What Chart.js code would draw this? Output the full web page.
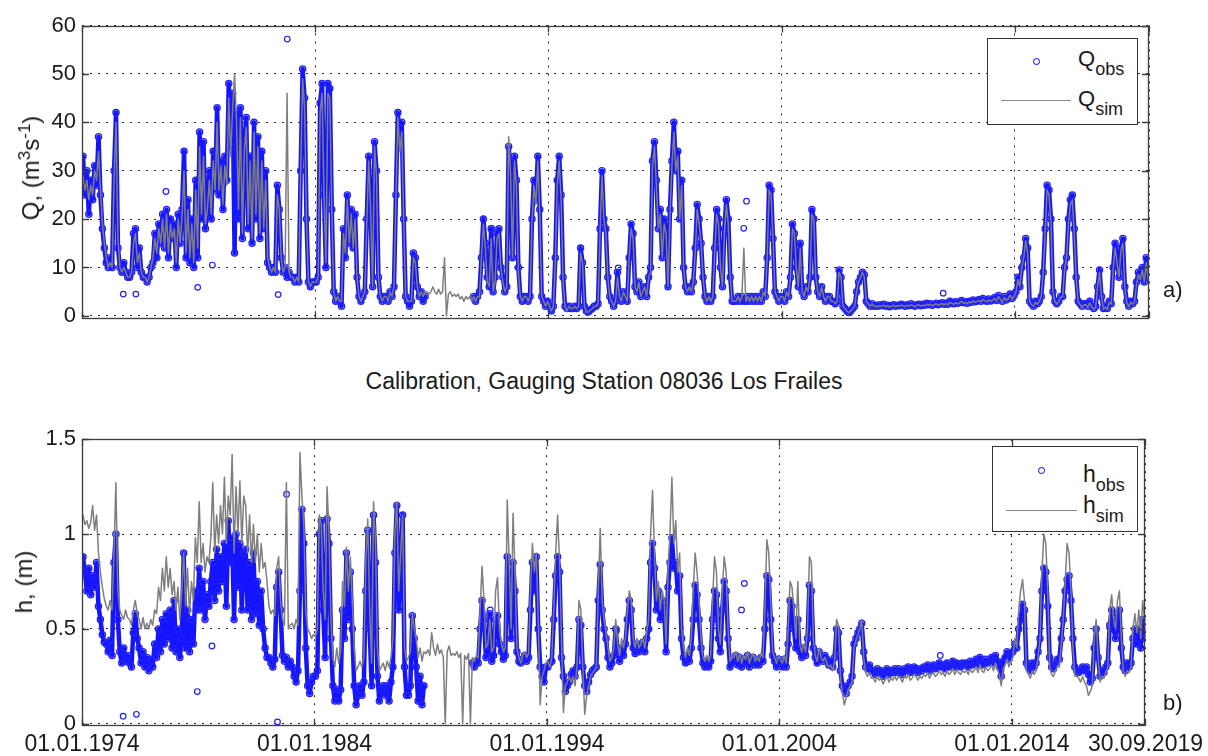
<!DOCTYPE html>
<html>
<head>
<meta charset="utf-8">
<script src="https://cdn.jsdelivr.net/npm/chart.js@4.4.0/dist/chart.umd.min.js"></script>
<style>
html,body{margin:0;padding:0;background:#fff;}
body{width:1208px;height:756px;position:relative;overflow:hidden;font-family:"Liberation Sans",Arial,sans-serif;color:#1a1a1a;}
.cw{position:absolute;left:0;width:1208px;}
#w1{top:0;height:345px;}
#w2{top:420px;height:336px;}
.ylab{position:absolute;white-space:nowrap;transform:translate(-50%,-50%) rotate(-90deg);font-size:24px;line-height:24px;}
.ylab sup{font-size:17px;vertical-align:9px;line-height:0;}
.title{position:absolute;left:0;width:1208px;text-align:center;top:369px;font-size:23px;line-height:24px;}
.pl{position:absolute;font-size:22px;line-height:22px;}
.leg{position:absolute;border:1px solid #333;background:#fff;box-sizing:border-box;}
.leg .mk{position:absolute;width:5px;height:5px;border:1.3px solid #0000ff;border-radius:50%;}
.leg .ln{position:absolute;height:0;border-top:1.3px solid #8a8a8a;}
.leg .tx{position:absolute;white-space:nowrap;line-height:22px;}
.leg .tx sub{vertical-align:-9px;line-height:0;}
</style>
</head>
<body>
<div class="cw" id="w1"><canvas id="c1" width="1208" height="345"></canvas></div>
<div class="cw" id="w2"><canvas id="c2" width="1208" height="336"></canvas></div>

<div class="ylab" style="left:31px;top:168px;">Q, (m<sup>3</sup>s<sup>-1</sup>)</div>
<div class="ylab" style="left:24px;top:582px;">h, (m)</div>
<div class="title">Calibration, Gauging Station 08036 Los Frailes</div>
<div class="pl" style="left:1163px;top:279px;">a)</div>
<div class="pl" style="left:1163px;top:692px;">b)</div>

<div class="leg" style="left:987px;top:38px;width:151px;height:87px;">
  <span class="mk" style="left:45px;top:19px;"></span>
  <span class="ln" style="left:13px;top:61px;width:70px;"></span>
  <span class="tx" style="left:90px;top:9px;font-size:22px;">Q<sub style="font-size:18px;">obs</sub></span>
  <span class="tx" style="left:90px;top:49px;font-size:22px;">Q<sub style="font-size:18px;">sim</sub></span>
</div>
<div class="leg" style="left:992px;top:446px;width:146px;height:86px;">
  <span class="mk" style="left:45px;top:20px;"></span>
  <span class="ln" style="left:13px;top:63px;width:71px;"></span>
  <span class="tx" style="left:90px;top:16px;font-size:23px;">h<sub style="font-size:18px;">obs</sub></span>
  <span class="tx" style="left:90px;top:47px;font-size:23px;">h<sub style="font-size:18px;">sim</sub></span>
</div>

<script>
// ---------------- DATA (monthly values, Jan 1974 .. Sep 2019) ----------------
const startYear = 1974;
const xTickVals = [1974, 1984, 1994, 2004, 2014, 2019.745];
const xTickLabels = ['01.01.1974', '01.01.1984', '01.01.1994', '01.01.2004', '01.01.2014', '30.09.2019'];
const qTicks = [0, 10, 20, 30, 40, 50, 60];
const hTicks = [0, 0.5, 1, 1.5];
const hTickLabels = ['0', '0.5', '1', '1.5'];

const qObs = [
33,25,30,21,28,24,31,27,37,25,18,14,
11,10,12,10,30,42,14,10,9,11,9,8,
8,9,17,18,10,14,9,8,8,7,8,10,
11,17,12,19,15,21,14,22,12,20,16,19,
10,21,15,22,34,12,24,11,20,10,28,12,
38,20,36,18,22,30,20,34,26,43,25,32,
22,33,28,48,35,46,13,42,20,43,16,36,
41,18,33,15,40,20,37,16,34,18,30,11,
10,9,10,9,27,22,12,9,10,8,9,8,
8,7,8,7,30,51,45,20,7,6,7,7,
7,8,44,48,25,10,48,47,22,5,3,4,
3,2,18,12,25,15,22,14,21,8,4,3,
4,5,20,33,22,6,36,30,8,4,3,4,
4,3,5,4,6,25,42,35,40,20,4,3,
2,3,13,12,6,4,5,3,4,null,null,null,
null,null,null,null,null,null,null,null,null,null,null,null,
null,null,null,null,null,null,null,null,null,4,3,4,
5,12,20,15,8,6,18,5,8,17,18,10,
8,5,6,35,30,12,33,28,10,4,3,4,
4,3,4,20,28,24,33,22,4,3,2,3,
2,1,2,12,28,33,25,8,2,1.5,2,1.5,
1.5,2,1.5,2,14,11,2,1,0.8,1.2,1.5,2,
2,2.5,18,30,20,18,8,4,3,2,3,9,
4,3,5,4,3,12,19,17,6,5,7,4,
5,6,4,8,10,32,36,28,18,22,12,20,
18,6,22,32,40,30,34,20,28,10,6,5,
6,5,7,14,23,20,15,8,4,3,4,3,
4,14,22,20,10,6,18,24,20,8,3,3,
3,4,3,4,3,3,4,3,4,3,4,3,
4,3,5,4,12,27,26,16,5,4,3,4,
4,3,5,4,8,19,17,10,6,15,5,4,
6,5,8,22,20,8,5,4,6,4,3,4,
4,3,3,2.5,3,9.5,8,2,1.5,1,0.7,1,
1.5,2,5,7,8,9,8.5,3,2.5,2,2.5,2,
2.2,2.0,2.3,2.1,2.4,2.0,2.2,1.9,2.1,2.3,2.0,2.2,
2.1,2.4,2.2,2.0,2.3,2.1,2.5,2.2,2.0,2.3,2.4,2.1,
2.4,2.2,2.6,2.3,2.5,2.2,2.4,2.6,2.3,2.5,2.7,2.4,
2.6,2.4,3.0,2.7,2.5,2.9,2.6,2.8,3.2,2.7,2.9,2.6,
3.0,2.8,3.3,2.9,3.1,3.4,3.0,3.6,3.2,3.0,3.5,3.1,
3.4,3.8,3.2,4.2,3.5,3.0,4.0,3.3,3.7,4.5,3.6,4.2,
5,8,6,10,12,16,14,3,2.5,2,3,2.5,
3,4,9,18,27,26,20,5,3,2.5,3,4,
4,10,12,20,24,25,18,8,3,2.5,2,2.5,
2.5,2,3,2,1.5,2,6,9.5,4,1.5,2,1.5,
3,2.5,10,15,12,8,14,16,6,3,2,3,
2.5,3,7,9,8,10,7,12,8
];

const qSim = [
29,26,28,24,27,25,30,28,34,26,19,15,
12,10,11,10,28,40,16,10,9,10,9,8,
8,9,15,17,11,13,9,8,8,7,8,10,
12,16,13,18,15,20,14,21,13,19,16,18,
11,20,15,21,30,13,22,12,19,11,26,14,
35,21,33,19,22,28,21,32,26,40,26,31,
23,31,27,45,33,43,50,40,22,41,17,34,
39,19,32,16,38,21,35,17,32,18,28,12,
10,9,10,9,25,22,12,9,10,46,9,8,
8,7,8,7,30,49,43,20,7,6,7,7,
7,8,42,46,25,11,46,45,22,5,3,4,
3,3,17,13,24,15,21,14,20,8,4,3,
4,5,19,32,22,6,35,29,8,4,3,4,
4,3,5,4,6,24,41,34,38,20,4,3,
3,3,12,11,6,4,5,4,5,5,4.5,5,
6,5,4.5,5.5,4.5,5,12,0,4.5,5,4,4.5,
4,4.5,3.5,4,3,4,3.5,4,3,4,3,4,
4,12,19,14,7,6,16,5,7,16,17,10,
7,5,6,37,29,12,32,27,9,4,3,4,
4,3,4,19,27,23,32,21,4,3,2,3,
2,1,2,11,27,32,24,7,2,1,2,1.5,
1.5,2,1.5,2,13,11,2,0.8,0.8,1.2,1.5,2,
2,2.5,17,29,20,17,8,4,3,2,3,8,
4,3,5,4,3,12,18,16,6,5,7,4,
5,6,4,8,9,31,35,27,18,21,12,19,
17,6,21,31,38,30,33,20,27,10,6,5,
6,5,7,13,22,19,15,8,4,3,4,3,
4,13,21,19,10,6,17,23,19,8,3,3,
3,4,3,4,14,3,4,3,4,3,4,3,
4,3,5,4,12,26,25,16,5,4,3,4,
4,3,5,4,8,18,17,10,6,14,5,4,
6,5,8,21,20,8,5,4,6,4,3,4,
4,3,3,2.5,3,9,8,2,1.5,1,0.7,1,
1.5,2,5,7,8,9,8,3,2.5,2,2.5,2,
2.0,1.9,2.1,2.0,2.2,1.9,2.1,1.8,2.0,2.2,1.9,2.1,
2.0,2.2,2.1,1.9,2.2,2.0,2.3,2.1,1.9,2.2,2.3,2.0,
2.2,2.1,2.4,2.2,2.4,2.1,2.3,2.5,2.2,2.4,2.5,2.3,
2.5,2.3,2.8,2.6,2.4,2.7,2.5,2.7,3.0,2.6,2.8,2.5,
2.9,2.7,3.1,2.8,3.0,3.2,2.9,3.4,3.1,2.9,3.3,3.0,
3.2,3.6,3.1,4.0,3.4,2.8,3.8,3.2,3.5,4.3,3.5,4.0,
5,7.5,6,10,12,15.5,13,3,2.3,2,2.8,2.4,
3,4,9,17,26,25,19,5,3,2.4,3,3.8,
4,9.5,12,19,23,24,17,7.5,3,2.3,1.8,2.3,
2.3,1.8,2.7,1.8,1.4,1.8,6,9,4,1.4,1.8,1.4,
2.8,2.4,9.5,14,11,8,13.5,15,6,2.8,1.9,2.8,
2.4,2.8,6.5,8.5,7.5,9.5,7,11,7.5
];

const hObs = [
0.88,0.8,0.7,0.82,0.68,0.78,0.72,0.85,0.62,0.55,0.47,0.43,
0.42,0.38,0.44,0.36,0.85,1.0,0.55,0.38,0.32,0.4,0.33,0.36,
0.32,0.3,0.48,0.58,0.45,0.4,0.32,0.38,0.3,0.35,0.28,0.34,
0.3,0.42,0.35,0.5,0.38,0.55,0.42,0.58,0.45,0.6,0.4,0.65,
0.38,0.5,0.35,0.45,0.9,0.4,0.6,0.38,0.55,0.42,0.7,0.6,
0.82,0.6,0.75,0.55,0.68,0.62,0.75,0.85,0.65,0.92,0.7,0.88,
0.75,0.95,0.62,1.07,0.85,0.98,0.55,1.0,0.72,0.95,0.6,0.9,
0.92,0.6,0.85,0.55,0.9,0.58,0.75,0.52,0.7,0.5,0.4,0.35,
0.35,0.32,0.3,0.34,0.72,0.8,0.6,0.36,0.33,0.35,0.3,0.33,
0.3,0.25,0.22,0.28,0.7,1.13,0.95,0.4,0.2,0.16,0.22,0.25,
0.25,0.28,1.0,1.07,0.6,0.35,1.08,0.95,0.45,0.2,0.12,0.18,
0.12,0.18,0.6,0.45,0.9,0.55,0.8,0.5,0.2,0.1,0.15,0.2,
0.15,0.22,0.7,1.02,0.5,0.2,1.1,0.85,0.25,0.12,0.18,0.2,
0.15,0.2,0.12,0.22,0.3,0.9,1.15,0.6,0.8,1.1,0.3,0.15,
0.15,0.2,0.57,0.45,0.3,0.12,0.25,0.1,0.2,null,null,null,
null,null,null,null,null,null,null,null,null,null,null,null,
null,null,null,null,null,null,null,null,null,0.32,0.3,0.33,
0.32,0.5,0.65,0.55,0.35,0.38,0.58,0.33,0.36,0.55,0.57,0.42,
0.38,0.34,0.36,0.88,0.75,0.45,0.85,0.7,0.38,0.33,0.32,0.34,
0.36,0.33,0.35,0.6,0.85,0.7,0.88,0.5,0.3,0.25,0.22,0.3,
0.3,0.32,0.33,0.55,0.78,0.88,0.8,0.35,0.25,0.17,0.2,0.22,
0.26,0.28,0.25,0.3,0.55,0.52,0.3,0.2,0.17,0.22,0.26,0.28,
0.29,0.3,0.65,0.84,0.6,0.5,0.45,0.35,0.3,0.32,0.36,0.5,
0.38,0.33,0.4,0.36,0.42,0.55,0.65,0.6,0.4,0.37,0.42,0.38,
0.4,0.43,0.38,0.45,0.5,0.85,0.95,0.82,0.6,0.7,0.55,0.65,
0.6,0.38,0.72,0.85,0.98,0.82,0.85,0.7,0.78,0.45,0.35,0.32,
0.36,0.33,0.4,0.55,0.73,0.68,0.55,0.4,0.32,0.3,0.33,0.3,
0.33,0.55,0.7,0.68,0.45,0.38,0.6,0.75,0.7,0.45,0.3,0.32,
0.33,0.36,0.31,0.35,0.3,0.34,0.32,0.36,0.3,0.33,0.35,0.31,
0.33,0.31,0.35,0.33,0.5,0.78,0.76,0.55,0.36,0.33,0.3,0.34,
0.32,0.3,0.34,0.3,0.42,0.65,0.62,0.5,0.4,0.55,0.38,0.35,
0.4,0.36,0.45,0.73,0.7,0.4,0.35,0.32,0.38,0.34,0.33,0.36,
0.34,0.31,0.33,0.3,0.35,0.5,0.48,0.28,0.2,0.18,0.16,0.2,
0.22,0.25,0.42,0.45,0.48,0.5,0.53,0.38,0.3,0.29,0.31,0.28,
0.28,0.26,0.29,0.27,0.28,0.25,0.27,0.29,0.26,0.28,0.27,0.29,
0.27,0.29,0.28,0.26,0.29,0.28,0.3,0.27,0.28,0.3,0.29,0.27,
0.29,0.28,0.3,0.29,0.31,0.28,0.3,0.31,0.29,0.3,0.32,0.3,
0.31,0.29,0.32,0.3,0.31,0.33,0.3,0.32,0.31,0.3,0.32,0.31,
0.32,0.3,0.33,0.31,0.32,0.34,0.31,0.35,0.32,0.31,0.34,0.32,
0.33,0.35,0.32,0.36,0.33,0.3,0.25,0.33,0.35,0.38,0.34,0.37,
0.38,0.42,0.4,0.5,0.55,0.63,0.6,0.32,0.3,0.28,0.32,0.3,
0.32,0.38,0.45,0.7,0.82,0.8,0.62,0.35,0.3,0.29,0.32,0.34,
0.34,0.45,0.55,0.7,0.76,0.78,0.65,0.45,0.3,0.28,0.27,0.28,
0.3,0.28,0.3,0.26,0.22,0.24,0.4,0.5,0.35,0.25,0.28,0.27,
0.3,0.32,0.52,0.6,0.5,0.45,0.58,0.6,0.4,0.3,0.28,0.32,
0.3,0.32,0.45,0.5,0.42,0.5,0.4,0.55,0.45
];

const hSim = [
1.1,1.05,1.07,1.03,1.06,1.15,1.02,1.1,0.9,0.8,0.72,0.66,
0.62,0.6,0.65,0.6,0.9,1.27,0.7,0.6,0.57,0.55,0.6,0.56,
0.55,0.52,0.6,0.65,0.58,0.55,0.5,0.56,0.5,0.53,0.5,0.55,
0.52,0.6,0.58,0.72,0.65,0.82,0.7,0.88,0.72,0.82,0.68,0.75,
0.6,0.72,0.55,0.7,0.9,0.62,0.82,0.58,0.75,0.65,0.98,0.85,
1.17,0.85,0.95,0.8,0.88,0.85,0.98,1.27,0.9,1.1,0.95,1.15,
1.0,1.3,0.95,1.2,1.1,1.42,0.9,1.25,1.0,1.28,0.95,1.2,
1.15,0.9,1.1,0.85,1.05,0.85,1.0,0.8,0.95,0.82,0.85,0.75,
0.62,0.58,0.6,0.57,0.82,0.88,0.65,0.55,0.52,1.27,0.5,0.52,
0.53,0.5,0.55,0.52,1.43,1.2,1.05,0.6,0.5,0.48,0.45,0.47,
0.46,0.5,1.1,1.05,0.7,0.55,1.25,1.0,0.55,0.35,0.3,0.4,
0.32,0.38,0.75,0.62,0.93,0.7,0.88,0.65,0.4,0.28,0.3,0.33,
0.3,0.35,0.85,1.08,0.6,0.32,1.17,0.95,0.4,0.28,0.3,0.32,
0.28,0.33,0.3,0.35,0.45,1.0,1.17,0.7,0.9,1.1,0.4,0.33,
0.35,0.38,0.58,0.5,0.45,0.35,0.4,0.33,0.38,0.37,0.39,0.36,
0.48,0.4,0.36,0.42,0.37,0.39,0.35,0.0,0.38,0.41,0.36,0.37,
0.36,0.38,0.35,0.37,0.0,0.36,0.34,0.37,0.0,0.35,0.33,0.36,
0.35,0.6,0.83,0.65,0.4,0.42,0.55,0.38,0.4,0.7,0.77,0.5,
0.42,0.38,0.4,1.18,0.85,0.5,1.11,0.8,0.4,0.35,0.32,0.36,
0.38,0.35,0.37,0.7,0.95,0.8,0.9,0.55,0.1,0.25,0.28,0.32,
0.33,0.3,0.35,0.6,0.9,1.1,0.85,0.45,0.06,0.2,0.22,0.25,
0.22,0.25,0.2,0.3,0.65,0.6,0.3,0.05,0.15,0.2,0.25,0.27,
0.28,0.3,0.7,1.03,0.65,0.55,0.48,0.4,0.33,0.35,0.4,0.55,
0.42,0.36,0.45,0.4,0.45,0.6,0.7,0.65,0.45,0.4,0.45,0.4,
0.42,0.45,0.4,0.48,0.55,1.0,1.23,0.9,0.65,0.75,0.6,0.7,
0.65,0.42,0.8,1.0,1.3,0.95,1.07,0.8,0.9,0.5,0.4,0.35,
0.4,0.36,0.45,0.7,0.9,0.8,0.65,0.45,0.35,0.33,0.36,0.33,
0.36,0.65,0.88,0.8,0.5,0.42,0.7,0.88,0.8,0.5,0.33,0.35,
0.35,0.38,0.33,0.37,0.32,0.36,0.34,0.38,0.32,0.35,0.37,0.33,
0.35,0.33,0.37,0.35,0.6,0.97,0.9,0.65,0.38,0.35,0.32,0.36,
0.34,0.32,0.36,0.32,0.5,0.75,0.72,0.6,0.45,0.75,0.42,0.38,
0.42,0.38,0.5,0.88,0.85,0.45,0.36,0.33,0.4,0.35,0.33,0.35,
0.32,0.3,0.31,0.28,0.33,0.55,0.52,0.25,0.16,0.1,0.14,0.18,
0.2,0.22,0.4,0.44,0.47,0.5,0.55,0.35,0.27,0.25,0.27,0.24,
0.24,0.22,0.25,0.23,0.24,0.21,0.23,0.25,0.22,0.24,0.23,0.25,
0.23,0.25,0.24,0.22,0.25,0.24,0.26,0.23,0.24,0.26,0.25,0.23,
0.25,0.24,0.26,0.25,0.27,0.24,0.26,0.27,0.25,0.26,0.28,0.26,
0.27,0.25,0.28,0.26,0.27,0.29,0.26,0.28,0.27,0.26,0.28,0.27,
0.28,0.26,0.29,0.27,0.28,0.3,0.27,0.31,0.28,0.27,0.3,0.28,
0.29,0.31,0.28,0.32,0.29,0.26,0.2,0.29,0.31,0.34,0.3,0.33,
0.35,0.45,0.4,0.6,0.7,0.76,0.65,0.28,0.26,0.24,0.28,0.26,
0.28,0.35,0.45,0.8,1.0,0.95,0.7,0.3,0.26,0.25,0.28,0.3,
0.3,0.42,0.55,0.75,0.95,0.9,0.7,0.4,0.25,0.25,0.24,0.22,
0.25,0.22,0.2,0.15,0.17,0.2,0.45,0.55,0.35,0.22,0.25,0.24,
0.27,0.3,0.6,0.68,0.55,0.5,0.65,0.7,0.45,0.28,0.25,0.28,
0.27,0.3,0.5,0.58,0.48,0.6,0.45,0.65,0.55
];

// isolated observed values (decimal year, value)
const qOutT = [1975.77, 1976.31, 1977.6, 1978.96, 1979.59, 1982.41, 1982.8, 1991.56, 1996.99, 2002.37, 2002.49, 2010.92, 2014.13];
const qOutV = [4.5, 4.5, 25.7, 5.9, 10.5, 4.4, 57.2, 18.1, 9.9, 18.1, 23.7, 4.7, 6.8];
const hOutT = [1975.77, 1976.34, 1978.96, 1979.59, 1982.41, 1982.8, 1991.56, 1996.99, 2002.37, 2002.49, 2010.92];
const hOutV = [0.04, 0.05, 0.17, 0.41, 0.01, 1.21, 0.6, 0.49, 0.6, 0.74, 0.36];

// ---------------- CHART ----------------
const FONT = '"Liberation Sans", Arial, sans-serif';
const TXT = '#1a1a1a';
const monthTime = i => startYear + (i + 0.5) / 12;
const series = vals => vals.map((v, i) => ({x: monthTime(i), y: v}));
const pairs = (ts, vs) => ts.map((t, i) => ({x: t, y: vs[i]}));

const boxPlugin = {
  id: 'box',
  afterDraw(chart) {
    const {ctx, chartArea: a, scales} = chart;
    ctx.save();
    ctx.strokeStyle = '#3c3c3c';
    ctx.lineWidth = 1.3;
    ctx.strokeRect(Math.round(a.left) + 0.5, Math.round(a.top) + 0.5,
                   Math.round(a.right - a.left) - 1, Math.round(a.bottom - a.top) - 1);
    const tl = 7;
    ctx.beginPath();
    scales.x.ticks.forEach(t => {
      const p = Math.round(scales.x.getPixelForValue(t.value)) + 0.5;
      ctx.moveTo(p, a.bottom); ctx.lineTo(p, a.bottom - tl);
      ctx.moveTo(p, a.top); ctx.lineTo(p, a.top + tl);
    });
    scales.y.ticks.forEach(t => {
      const p = Math.round(scales.y.getPixelForValue(t.value)) + 0.5;
      ctx.moveTo(a.left, p); ctx.lineTo(a.left + tl, p);
      ctx.moveTo(a.right, p); ctx.lineTo(a.right - tl, p);
    });
    ctx.stroke();
    ctx.restore();
  }
};

function makeChart(id, obs, sim, outT, outV, yMin, yMax, yTicks, yLabelFn, showX, pad, xAxisH) {
  return new Chart(document.getElementById(id), {
    type: 'line',
    data: {
      datasets: [
        {data: series(sim), borderColor: '#7e7e7e', borderWidth: 1.5, pointRadius: 0,
         fill: false, tension: 0, spanGaps: false, order: 0},
        {data: series(obs), borderColor: '#1414ff', borderWidth: 4.5, pointRadius: 3.1,
         pointBorderWidth: 1.3, pointBorderColor: '#2020ff', pointBackgroundColor: 'rgba(255,255,255,0)',
         fill: false, tension: 0, spanGaps: false, order: 1},
        {data: pairs(outT, outV), showLine: false, pointRadius: 2.8, pointBorderWidth: 1.2,
         pointBorderColor: '#2020ff', pointBackgroundColor: 'rgba(255,255,255,0)', order: 2}
      ]
    },
    options: {
      responsive: false, animation: false, devicePixelRatio: 1,
      layout: {padding: pad},
      plugins: {legend: {display: false}, tooltip: {enabled: false}, title: {display: false}},
      elements: {line: {borderJoinStyle: 'round', borderCapStyle: 'round'}},
      scales: {
        x: {
          type: 'linear', min: 1974, max: 2019.745,
          afterBuildTicks: ax => { ax.ticks = xTickVals.map(v => ({value: v})); },
          afterFit: ax => { ax.height = xAxisH; },
          ticks: {display: showX, autoSkip: false, maxRotation: 0, padding: 5,
                  font: {size: 23, family: FONT}, color: TXT,
                  callback: (v, i) => xTickLabels[i]},
          grid: {drawTicks: false, color: '#222', lineWidth: 1},
          border: {display: false, dash: [2, 6]}
        },
        y: {
          type: 'linear', min: yMin, max: yMax,
          afterBuildTicks: ax => { ax.ticks = yTicks.map(v => ({value: v})); },
          afterFit: ax => { ax.width = 82; },
          ticks: {padding: 6, font: {size: 22, family: FONT}, color: TXT, callback: yLabelFn},
          grid: {drawTicks: false, color: '#222', lineWidth: 1},
          border: {display: false, dash: [2, 6]}
        }
      }
    },
    plugins: [boxPlugin]
  });
}

makeChart('c1', qObs, qSim, qOutT, qOutV, -0.5, 60, qTicks, v => String(v), false,
          {left: 0, right: 59, top: 25.5, bottom: 26.7}, 0);
makeChart('c2', hObs, hSim, hOutT, hOutV, -0.01, 1.5, hTicks, v => hTickLabels[hTicks.indexOf(v)], true,
          {left: 0, right: 59, top: 13.5, bottom: 0}, 30.3);
</script>
</body>
</html>
